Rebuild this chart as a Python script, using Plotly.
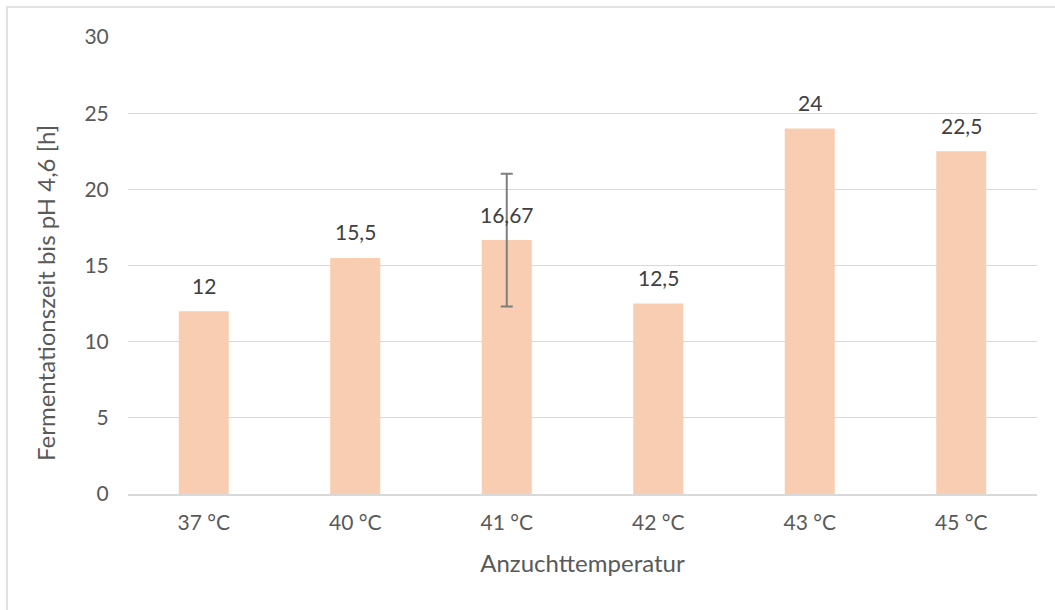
import plotly.graph_objects as go

categories = ["37 °C", "40 °C", "41 °C", "42 °C", "43 °C", "45 °C"]
values = [12, 15.5, 16.67, 12.5, 24, 22.5]
labels = ["12", "15,5", "16,67", "12,5", "24", "22,5"]
err_category = ["41 °C"]
err_value = [16.67]
err_size = [4.36]

W, H = 1055, 610
L, R, T, B = 128, 18, 37, 116
FONT = "Lato"
TXT = "#595959"

fig = go.Figure()
fig.add_trace(go.Bar(
    x=categories, y=values,
    marker=dict(color="#F9CDB1", line=dict(width=0)),
    hoverinfo="x+y",
))
fig.add_trace(go.Scatter(
    x=err_category, y=err_value, mode="markers",
    marker=dict(size=1, opacity=0),
    error_y=dict(type="data", array=err_size, visible=True, color="#7F7F7F", thickness=2, width=6),
    hoverinfo="skip",
))

for c, v, t in zip(categories, values, labels):
    fig.add_annotation(x=c, y=v, text=t, showarrow=False, yanchor="middle", yshift=26,
                       font=dict(family=FONT, size=21, color="#404040"))

pw = W - L - R
ph = H - T - B
fig.add_shape(type="rect", xref="paper", yref="paper",
              x0=(7 - L) / pw, x1=(W + 20 - L) / pw,
              y0=-(H + 20 - T - ph) / ph, y1=1 + (T - 7) / ph,
              line=dict(color="#D9D9D9", width=1.5), fillcolor="rgba(0,0,0,0)", layer="below")

# y-axis title placed as annotation (centred at x=45px, y=293px)
fig.add_annotation(xref="paper", yref="paper",
                   x=(45 - L) / pw, y=(H - B - 293) / ph,
                   text="Fermentationszeit bis pH 4,6 [h]", textangle=-90, showarrow=False,
                   xanchor="center", yanchor="middle",
                   font=dict(family=FONT, size=24, color=TXT))

fig.update_layout(
    width=W, height=H,
    margin=dict(l=L, r=R, t=T, b=B),
    paper_bgcolor="white", plot_bgcolor="white",
    bargap=0.67,
    showlegend=False,
    separators=",.",
    font=dict(family=FONT, size=21, color=TXT),
    xaxis=dict(
        title=dict(text="Anzuchttemperatur", font=dict(family=FONT, size=24, color=TXT), standoff=22),
        showgrid=False, showline=True, linecolor="#D9D9D9", linewidth=1.5,
        ticks="outside", ticklen=9, tickcolor="white",
        tickfont=dict(family=FONT, size=21, color=TXT),
    ),
    yaxis=dict(
        range=[0, 30], tickvals=[0, 5, 10, 15, 20, 25, 30],
        showgrid=True, gridcolor="#D9D9D9", gridwidth=1.3,
        zeroline=False, showline=False,
        ticks="outside", ticklen=14, tickcolor="white",
        tickfont=dict(family=FONT, size=21, color=TXT),
    ),
)

fig.write_html("out.html", config={"displayModeBar": False},
               post_script="document.body.style.margin='0';document.body.style.overflow='hidden';")
